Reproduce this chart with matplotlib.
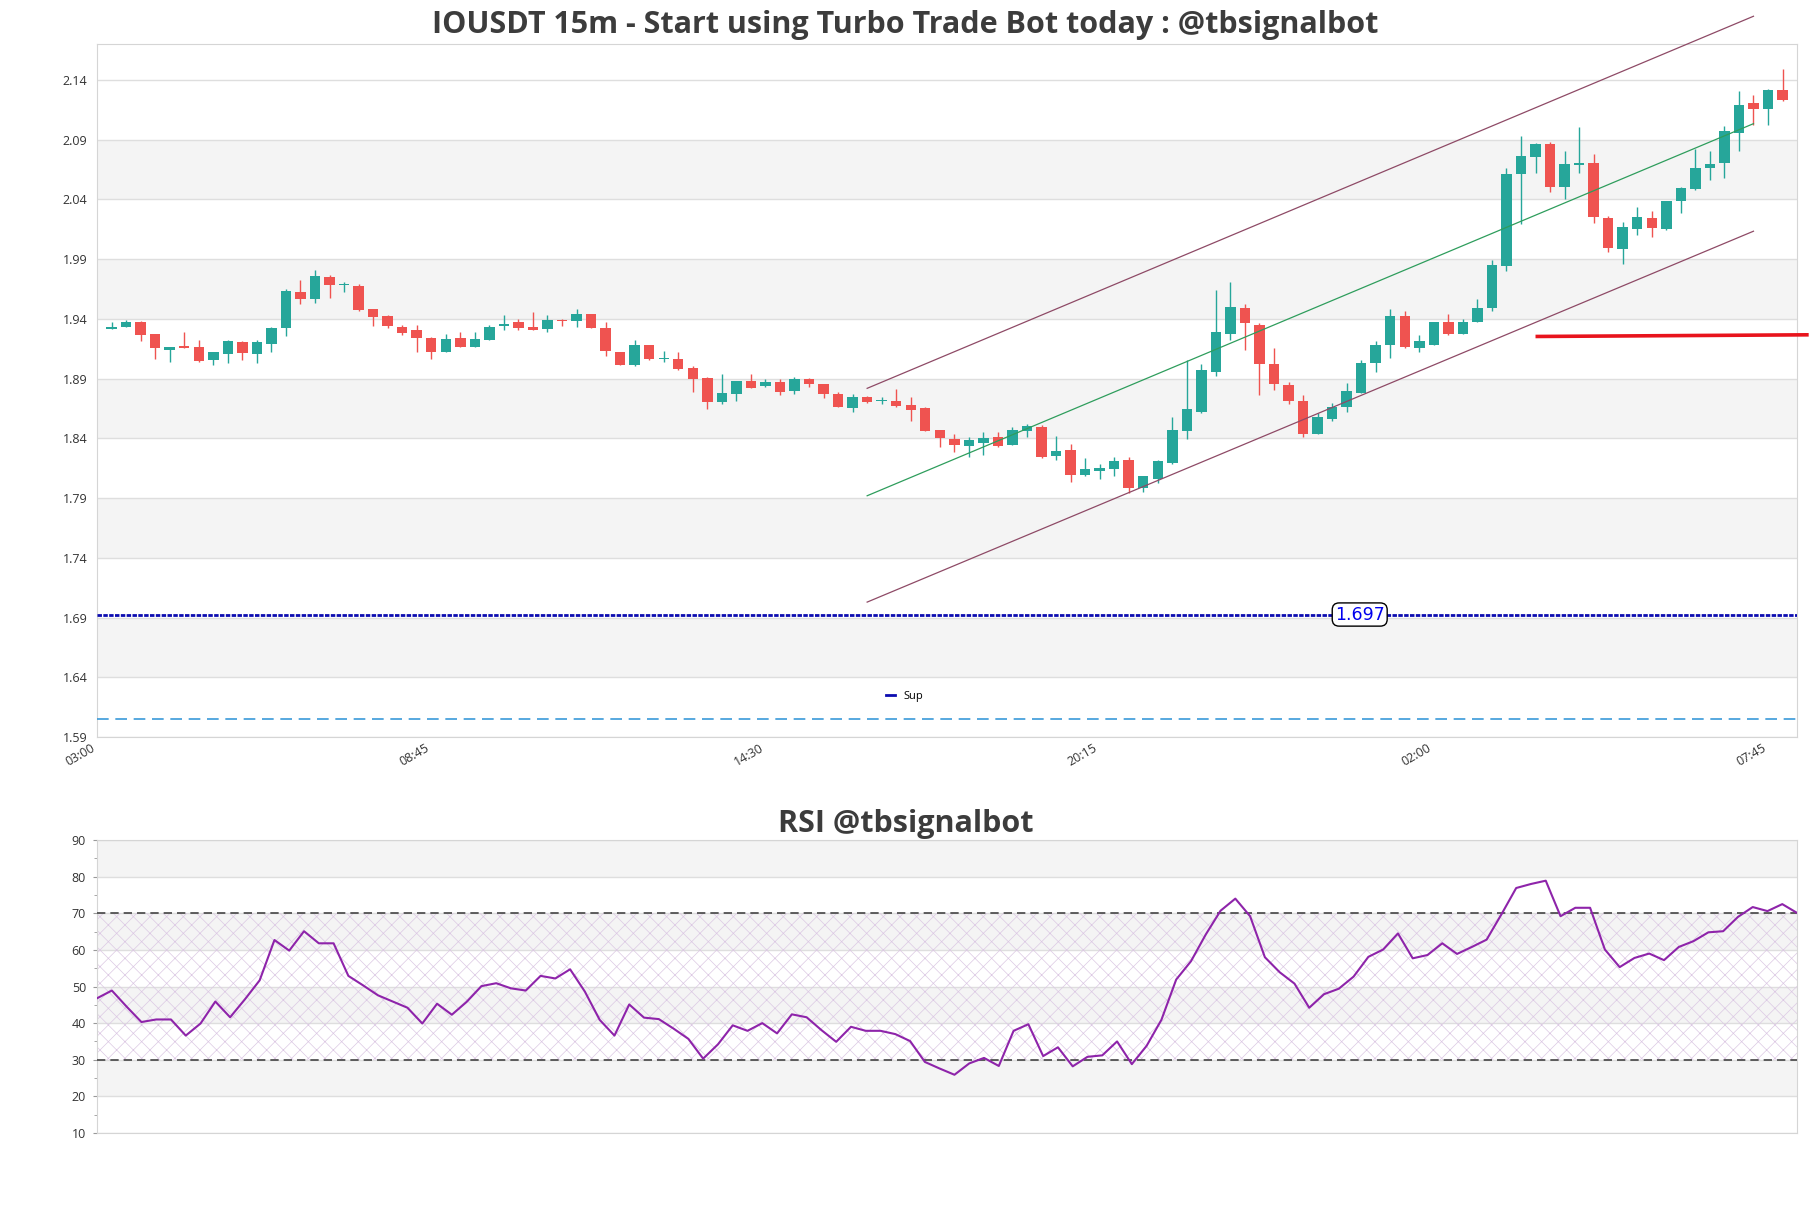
import numpy as np
import matplotlib.pyplot as plt
from matplotlib.lines import Line2D

plt.rcParams['font.family'] = ['Open Sans', 'DejaVu Sans']
plt.rcParams['hatch.linewidth'] = 0.5

# 15m candles, 03:15 -> 08:00
opens = [1.9316, 1.9330, 1.9372, 1.9271, 1.9136, 1.9175, 1.9167, 1.9052, 1.9102, 1.9209,
         1.9102, 1.9187, 1.9321, 1.9622, 1.9566, 1.9751, 1.9684, 1.9672, 1.9479, 1.9420,
         1.9335, 1.9310, 1.9237, 1.9119, 1.9243, 1.9161, 1.9226, 1.9341, 1.9369, 1.9335,
         1.9313, 1.9394, 1.9378, 1.9437, 1.9327, 1.9125, 1.9015, 1.9184, 1.9066, 1.9066,
         1.8990, 1.8907, 1.8706, 1.8767, 1.8880, 1.8839, 1.8867, 1.8797, 1.8894, 1.8853,
         1.8769, 1.8656, 1.8742, 1.8711, 1.8711, 1.8678, 1.8656, 1.8469, 1.8394, 1.8338,
         1.8363, 1.8414, 1.8347, 1.8464, 1.8498, 1.8254, 1.8302, 1.8095, 1.8129, 1.8145,
         1.8218, 1.7985, 1.8058, 1.8196, 1.8464, 1.8616, 1.8956, 1.9274, 1.9487, 1.9352,
         1.9025, 1.8848, 1.8714, 1.8436, 1.8565, 1.8661, 1.8775, 1.9027, 1.9177, 1.9425,
         1.9157, 1.9182, 1.9374, 1.9271, 1.9377, 1.9494, 1.9838, 2.0610, 2.0750, 2.0864,
         2.0499, 2.0691, 2.0705, 2.0242, 1.9980, 2.0150, 2.0242, 2.0153, 2.0382, 2.0488,
         2.0661, 2.0700, 2.0959, 2.1205, 2.1154, 2.1316]
highs = [1.9375, 1.9392, 1.9383, 1.9276, 1.9167, 1.9287, 1.9220, 1.9125, 1.9225, 1.9215,
         1.9225, 1.9333, 1.9647, 1.9723, 1.9807, 1.9765, 1.9709, 1.9689, 1.9485, 1.9428,
         1.9352, 1.9344, 1.9245, 1.9276, 1.9287, 1.9287, 1.9352, 1.9428, 1.9400, 1.9456,
         1.9428, 1.9400, 1.9484, 1.9443, 1.9369, 1.9125, 1.9226, 1.9184, 1.9131, 1.9125,
         1.9002, 1.8912, 1.8936, 1.8882, 1.8936, 1.8900, 1.8900, 1.8914, 1.8908, 1.8858,
         1.8786, 1.8769, 1.8756, 1.8747, 1.8811, 1.8742, 1.8664, 1.8469, 1.8436, 1.8414,
         1.8450, 1.8456, 1.8498, 1.8521, 1.8507, 1.8420, 1.8349, 1.8232, 1.8182, 1.8240,
         1.8240, 1.8084, 1.8218, 1.8574, 1.9058, 1.9023, 1.9638, 1.9708, 1.9520, 1.9366,
         1.9157, 1.8870, 1.8759, 1.8610, 1.8694, 1.8862, 1.9058, 1.9212, 1.9483, 1.9467,
         1.9263, 1.9377, 1.9441, 1.9399, 1.9564, 1.9893, 2.0660, 2.0931, 2.0869, 2.0878,
         2.0806, 2.1001, 2.0780, 2.0264, 2.0206, 2.0334, 2.0306, 2.0387, 2.0507, 2.0820,
         2.0806, 2.1015, 2.1308, 2.1274, 2.1322, 2.1492]
lows = [1.9316, 1.9330, 1.9212, 1.9066, 1.9035, 1.9158, 1.9035, 1.9010, 1.9026, 1.9057,
        1.9026, 1.9119, 1.9260, 1.9524, 1.9532, 1.9574, 1.9625, 1.9467, 1.9338, 1.9324,
        1.9262, 1.9119, 1.9066, 1.9119, 1.9161, 1.9161, 1.9220, 1.9310, 1.9307, 1.9307,
        1.9288, 1.9338, 1.9330, 1.9321, 1.9085, 1.9010, 1.9002, 1.9057, 1.9038, 1.8968,
        1.8790, 1.8647, 1.8689, 1.8714, 1.8822, 1.8828, 1.8761, 1.8767, 1.8828, 1.8739,
        1.8661, 1.8622, 1.8697, 1.8689, 1.8664, 1.8547, 1.8458, 1.8330, 1.8283, 1.8246,
        1.8263, 1.8330, 1.8342, 1.8414, 1.8238, 1.8218, 1.8030, 1.8083, 1.8058, 1.8086,
        1.7938, 1.7951, 1.8028, 1.8182, 1.8394, 1.8610, 1.8922, 1.9221, 1.9137, 1.8759,
        1.8801, 1.8689, 1.8414, 1.8436, 1.8548, 1.8616, 1.8775, 1.8958, 1.9076, 1.9155,
        1.9123, 1.9177, 1.9263, 1.9271, 1.9369, 1.9466, 1.9804, 2.0192, 2.0624, 2.0457,
        2.0400, 2.0619, 2.0200, 1.9958, 1.9857, 2.0103, 2.0083, 2.0144, 2.0284, 2.0479,
        2.0563, 2.0577, 2.0808, 2.1023, 2.1023, 2.1219]
closes = [1.9330, 1.9372, 1.9262, 1.9153, 1.9167, 1.9158, 1.9049, 1.9119, 1.9217, 1.9111,
          1.9209, 1.9327, 1.9630, 1.9566, 1.9757, 1.9684, 1.9692, 1.9473, 1.9414, 1.9338,
          1.9285, 1.9237, 1.9119, 1.9234, 1.9161, 1.9234, 1.9335, 1.9355, 1.9319, 1.9310,
          1.9392, 1.9380, 1.9437, 1.9321, 1.9128, 1.9010, 1.9184, 1.9066, 1.9072, 1.8976,
          1.8893, 1.8705, 1.8778, 1.8880, 1.8824, 1.8867, 1.8789, 1.8894, 1.8858, 1.8767,
          1.8664, 1.8742, 1.8706, 1.8717, 1.8672, 1.8636, 1.8464, 1.8400, 1.8344, 1.8386,
          1.8400, 1.8338, 1.8470, 1.8504, 1.8246, 1.8294, 1.8095, 1.8143, 1.8148, 1.8210,
          1.7985, 1.8084, 1.8210, 1.8470, 1.8647, 1.8969, 1.9290, 1.9495, 1.9366, 1.9022,
          1.8854, 1.8708, 1.8436, 1.8582, 1.8661, 1.8798, 1.9030, 1.9184, 1.9425, 1.9160,
          1.9213, 1.9372, 1.9271, 1.9374, 1.9489, 1.9852, 2.0613, 2.0764, 2.0864, 2.0499,
          2.0697, 2.0705, 2.0248, 1.9991, 2.0167, 2.0250, 2.0158, 2.0387, 2.0493, 2.0661,
          2.0697, 2.0973, 2.1191, 2.1154, 2.1316, 2.1227]

rsi = [46.8, 48.9, 44.5, 40.3, 41.0, 41.0, 36.6, 39.9, 45.9, 41.6,
       46.5, 51.7, 62.7, 59.8, 65.1, 61.8, 61.8, 52.9, 50.3, 47.6,
       45.9, 44.2, 39.9, 45.3, 42.3, 45.8, 50.1, 50.9, 49.5, 48.9,
       52.9, 52.2, 54.7, 48.6, 40.9, 36.6, 45.1, 41.5, 41.1, 38.5,
       35.7, 30.3, 34.2, 39.4, 37.9, 40.0, 37.2, 42.4, 41.6, 38.1,
       34.9, 39.0, 37.9, 37.9, 37.0, 35.1, 29.4, 27.6, 25.9, 29.0,
       30.5, 28.3, 37.9, 39.7, 31.0, 33.4, 28.2, 30.8, 31.2, 35.0,
       28.8, 33.8, 40.9, 51.9, 56.9, 64.2, 70.7, 74.0, 69.2, 58.0,
       53.9, 50.8, 44.2, 47.9, 49.4, 52.7, 58.1, 60.1, 64.5, 57.7,
       58.6, 61.8, 58.9, 60.8, 62.8, 69.7, 76.9, 78.0, 78.9, 69.2,
       71.5, 71.5, 60.1, 55.3, 57.8, 59.0, 57.2, 60.8, 62.4, 64.8,
       65.1, 69.0, 71.7, 70.6, 72.5, 70.1]

tick_pos = [-1, 22, 45, 68, 91, 114]
tick_labels = ['03:00', '08:45', '14:30', '20:15', '02:00', '07:45']

sup_level = 1.6925
sup_text = '1.697'
low_level = 1.6053
red_x = [98, 116.8]
red_y = [1.9252, 1.9266]
chan_x = [52, 113]
chan_up = [1.8818, 2.1932]
chan_mid = [1.7919, 2.1033]
chan_low = [1.7029, 2.0133]

GREEN = '#26a69a'
RED = '#ef5350'
BAND = '#f4f4f4'
GRID = '#dedede'

fig = plt.figure(figsize=(18.11, 12.08), dpi=100)
ax = fig.add_axes([0.0536, 0.3899, 0.9387, 0.5737])
ax2 = fig.add_axes([0.0536, 0.0621, 0.9387, 0.2425])

# ---- price panel ----
o = np.array(opens); h = np.array(highs); l = np.array(lows); c = np.array(closes)
x = np.arange(len(o))
col = np.where(c >= o, GREEN, RED)
for lo in [1.64, 1.74, 1.84, 1.94, 2.04]:
    ax.axhspan(lo, lo + 0.05, color=BAND, zorder=0, lw=0)
ax.vlines(x, l, h, colors=col, lw=1.0, zorder=2)
body = np.maximum(np.abs(c - o), 0.0008)
ax.bar(x, body, bottom=np.minimum(o, c), width=0.72, color=col, zorder=3)

ax.axhline(sup_level, color='#0c0cb0', lw=2, dashes=(1.6, 0.5), zorder=4)
ax.text(85.9, sup_level, sup_text, color='#0000ee', fontsize=12.5, family='DejaVu Sans',
        ha='center', va='center', zorder=5,
        bbox=dict(boxstyle='round,pad=0.15,rounding_size=0.4', fc='white', ec='black', lw=1))
ax.axhline(low_level, color='#3a9ad9', lw=1.2, dashes=(7, 4), zorder=4)

ax.plot(red_x, red_y, color='#e8141c', lw=2.6, clip_on=False, solid_capstyle='butt', zorder=5)
ax.plot(chan_x, chan_up, color='#8e4a66', lw=0.9, clip_on=False, zorder=4)
ax.plot(chan_x, chan_mid, color='#2e9d5c', lw=0.9, clip_on=False, zorder=4)
ax.plot(chan_x, chan_low, color='#8e4a66', lw=0.9, clip_on=False, zorder=4)

ax.set_xlim(-1, 116)
ax.set_ylim(1.59, 2.17)
ax.set_yticks(np.round(np.arange(1.59, 2.15, 0.05), 2))
ax.set_yticklabels(['%.2f' % v for v in np.arange(1.59, 2.15, 0.05)])
ax.set_xticks(tick_pos)
ax.set_xticklabels(tick_labels, rotation=30, ha='right')
ax.tick_params(axis='y', length=0, pad=7, labelsize=9, labelcolor='#333333')
ax.tick_params(axis='x', length=0, pad=3, labelsize=9, labelcolor='#333333')
ax.grid(axis='y', color=GRID, lw=1, zorder=1)
ax.set_axisbelow(True)
for s in ax.spines.values():
    s.set_color('#d5d5d5')

handle = Line2D([], [], color='#0c0cb0', lw=2)
ax.legend([handle], ['Sup'], loc='center', bbox_to_anchor=(0.475, 0.058), frameon=False,
          handlelength=0.8, fontsize=8)

fig.text(0.5, 0.979, 'IOUSDT 15m - Start using Turbo Trade Bot today : @tbsignalbot',
         ha='center', va='center', fontsize=22, fontweight='bold', color='#3c3c3c')

# ---- RSI panel ----
xr = np.arange(len(rsi))
for lo in [20, 40, 60, 80]:
    ax2.axhspan(lo, lo + 10, color=BAND, zorder=0, lw=0)
ax2.fill_between([0, len(rsi) - 1], 30, 70, facecolor='none', edgecolor='#dcc8e4',
                 hatch='xx', lw=0, zorder=1)
ax2.axhline(70, color='#444444', lw=1.2, dashes=(5, 3), zorder=3)
ax2.axhline(30, color='#444444', lw=1.2, dashes=(5, 3), zorder=3)
ax2.plot(xr, rsi, color='#8e24aa', lw=1.5, zorder=4)
ax2.set_xlim(0, len(rsi) - 1)
ax2.set_ylim(10, 90)
ax2.set_yticks(range(10, 91, 10))
ax2.set_yticks(range(15, 90, 10), minor=True)
ax2.set_xticks([])
ax2.tick_params(axis='y', which='major', length=3, color='#999999', pad=5,
                labelsize=9, labelcolor='#333333')
ax2.tick_params(axis='y', which='minor', length=2, color='#999999')
ax2.grid(axis='y', color=GRID, lw=1, zorder=1)
ax2.set_axisbelow(True)
for s in ax2.spines.values():
    s.set_color('#d5d5d5')

fig.text(0.5, 0.318, 'RSI @tbsignalbot', ha='center', va='center', fontsize=22,
         fontweight='bold', color='#3c3c3c')

plt.savefig('out.png', dpi=100)
